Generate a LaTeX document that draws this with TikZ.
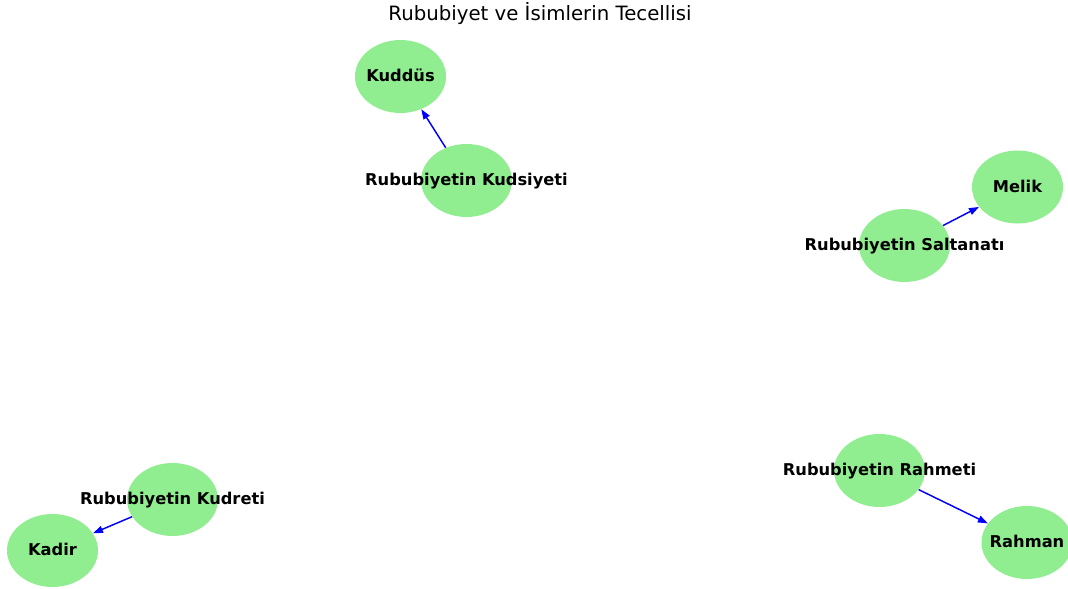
\documentclass[tikz,border=0pt]{standalone}
\usepackage{fontspec}
\setmainfont{DejaVu Sans}
\usetikzlibrary{shapes.geometric,arrows.meta}
\definecolor{nodegreen}{HTML}{90EE90}
\tikzset{
  gnode/.style={ellipse, fill=nodegreen, draw=none, minimum width=68.25pt, minimum height=54.75pt, inner sep=0pt},
  glabel/.style={font=\fontsize{12.2pt}{14pt}\selectfont\bfseries, text=black, text height=8.9pt, text depth=0pt, inner ysep=0pt, yshift=0.4pt},
  garrow/.style={draw=blue, line width=1.1pt, -{Triangle[length=7.5pt,width=5.25pt]}}
}
\begin{document}
\begin{tikzpicture}[x=0.75pt,y=-0.75pt]
\useasboundingbox (0,0) rectangle (1068,589);
\clip (0,0) rectangle (1068,589);
\node[font=\fontsize{14.8pt}{17pt}\selectfont] (title) at (540,14) {Rububiyet ve İsimlerin Tecellisi};

\node[gnode, label={[glabel]center:Kuddüs}] (kuddus) at (400.5,76.5) {};
\node[gnode, label={[glabel]center:Rububiyetin Kudsiyeti}] (kudsiyeti) at (466.5,180.5) {};
\node[gnode, label={[glabel]center:Melik}] (melik) at (1017.5,187) {};
\node[gnode, label={[glabel]center:Rububiyetin Saltanatı}] (saltanati) at (904.5,245.5) {};
\node[gnode, label={[glabel]center:Rububiyetin Rahmeti}] (rahmeti) at (879.5,470.5) {};
\node[gnode, label={[glabel]center:Rahman}] (rahman) at (1027,542.5) {};
\node[gnode, label={[glabel]center:Rububiyetin Kudreti}] (kudreti) at (172.5,499.5) {};
\node[gnode, label={[glabel]center:Kadir}] (kadir) at (52.5,550.5) {};

\draw[garrow] (kudsiyeti) -- (kuddus);
\draw[garrow] (saltanati) -- (melik);
\draw[garrow] (rahmeti) -- (rahman);
\draw[garrow] (kudreti) -- (kadir);
\end{tikzpicture}
\end{document}
